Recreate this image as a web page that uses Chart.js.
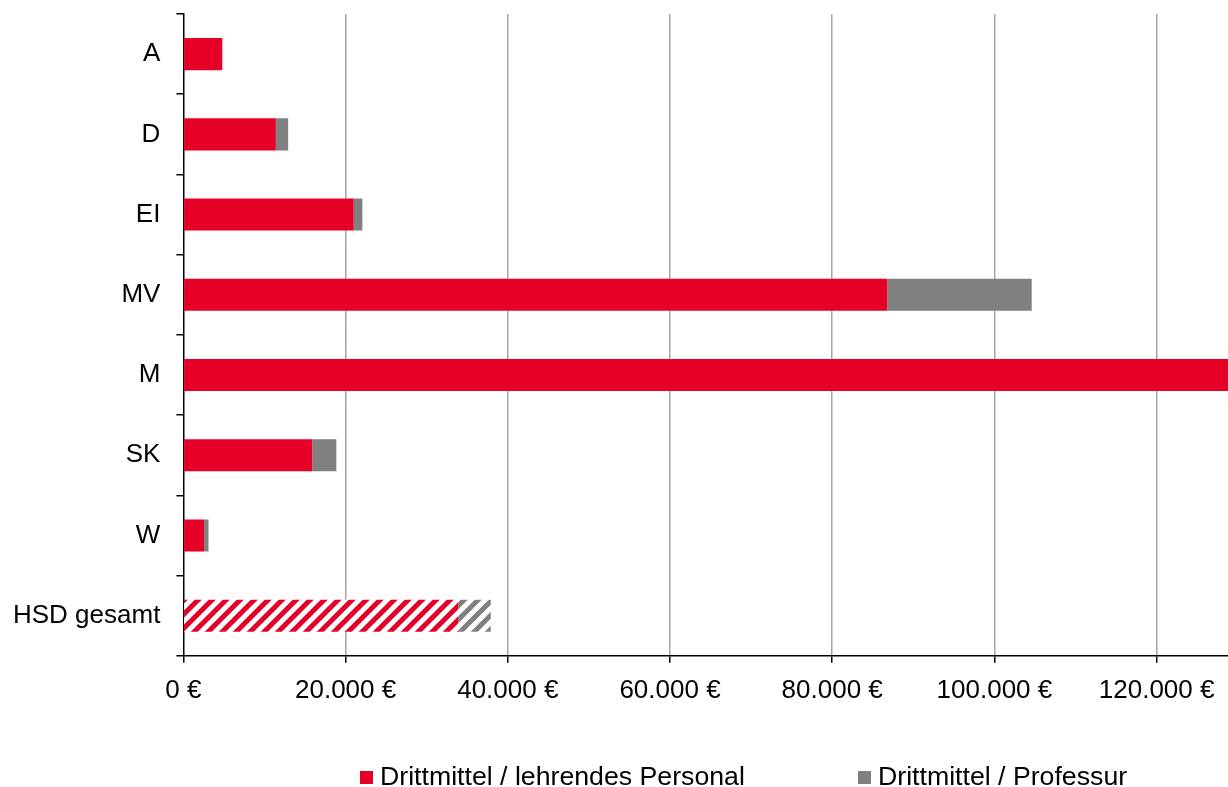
<!DOCTYPE html>
<html>
<head>
<meta charset="utf-8">
<script src="https://cdn.jsdelivr.net/npm/chart.js@4/dist/chart.umd.min.js"></script>
<style>
    html, body { margin: 0; padding: 0; background: #fff; }
    #wrap { position: relative; width: 1228px; height: 787px; }
    #legend {
        position: absolute; top: 762px; left: 0; width: 1228px; height: 28px;
        font-family: "Liberation Sans", Arial, sans-serif; font-size: 26.7px; color: #000;
    }
    .item { position: absolute; top: 0; white-space: nowrap; line-height: 28px; }
    .box { display: inline-block; width: 13px; height: 13px; margin-right: 7px; vertical-align: 1px; }
</style>
</head>
<body>
<div id="wrap">
    <canvas id="chart" width="1228" height="787"></canvas>
    <div id="legend">
        <div class="item" style="left:360px"><span class="box" style="background:#e60028"></span>Drittmittel / lehrendes Personal</div>
        <div class="item" style="left:858px"><span class="box" style="background:#808080"></span>Drittmittel / Professur</div>
    </div>
</div>
<script>
// Daten
const categories = ['A', 'D', 'EI', 'MV', 'M', 'SK', 'W', 'HSD gesamt'];
const lehrendesPersonal = [4800, 11400, 21000, 86800, 131000, 15900, 2550, 33900];
const professur = [0, 1520, 1070, 17800, 0, 2960, 550, 4000];
const xTicks = [0, 20000, 40000, 60000, 80000, 100000, 120000];

const RED = '#e60028';
const GRAY = '#808080';

// Schraffur fuer "HSD gesamt"
function makeHatch(color) {
    const size = 14;
    const c = document.createElement('canvas');
    c.width = size;
    c.height = size;
    const ctx = c.getContext('2d');
    ctx.fillStyle = '#fff';
    ctx.fillRect(0, 0, size, size);
    ctx.strokeStyle = color;
    ctx.lineWidth = 5;
    ctx.beginPath();
    ctx.moveTo(-size, 2 * size); ctx.lineTo(2 * size, -size);
    ctx.moveTo(-2 * size, 2 * size); ctx.lineTo(size, -size);
    ctx.moveTo(0, 2 * size); ctx.lineTo(3 * size, -size);
    ctx.stroke();
    return ctx.createPattern(c, 'repeat');
}
const redHatch = makeHatch(RED);
const grayHatch = makeHatch(GRAY);

function formatEuro(v) {
    return v.toString().replace(/\B(?=(\d{3})+(?!\d))/g, '.') + ' €';
}

// Achsen sollen keinen Extra-Rand fuer Beschriftungen reservieren
function noEdgePadding(axis) {
    axis.paddingTop = 0;
    axis.paddingBottom = 0;
    axis.paddingLeft = 0;
    axis.paddingRight = 0;
}

const fontFamily = '"Liberation Sans", Arial, sans-serif';

new Chart(document.getElementById('chart').getContext('2d'), {
    type: 'bar',
    data: {
        labels: categories,
        datasets: [{
            label: 'Drittmittel / lehrendes Personal',
            data: lehrendesPersonal,
            backgroundColor: (ctx) => ctx.dataIndex === categories.length - 1 ? redHatch : RED,
            barPercentage: 0.4,
            categoryPercentage: 1
        }, {
            label: 'Drittmittel / Professur',
            data: professur,
            backgroundColor: (ctx) => ctx.dataIndex === categories.length - 1 ? grayHatch : GRAY,
            barPercentage: 0.4,
            categoryPercentage: 1
        }]
    },
    options: {
        indexAxis: 'y',
        responsive: false,
        animation: false,
        layout: { padding: { top: 14, right: 0, left: -3, bottom: 69 } },
        scales: {
            x: {
                stacked: true,
                min: 0,
                max: 128800,
                afterBuildTicks: (axis) => { axis.ticks = xTicks.map(v => ({ value: v })); },
                afterFit: noEdgePadding,
                ticks: {
                    color: '#000',
                    font: { family: fontFamily, size: 26 },
                    padding: 12,
                    maxRotation: 0,
                    callback: (v) => formatEuro(v)
                },
                grid: {
                    color: (ctx) => ctx.tick && ctx.tick.value === 0 ? 'rgba(0,0,0,0)' : '#a6a6a6',
                    lineWidth: 1.5,
                    tickColor: '#000',
                    tickLength: 7
                },
                border: { color: '#000', width: 1.5 }
            },
            y: {
                stacked: true,
                afterFit: noEdgePadding,
                ticks: { color: '#000', font: { family: fontFamily, size: 26 }, padding: 16 },
                grid: {
                    offset: true,
                    drawOnChartArea: false,
                    tickColor: '#000',
                    tickLength: 7,
                    lineWidth: 1.5
                },
                border: { color: '#000', width: 1.5 }
            }
        },
        plugins: {
            legend: { display: false },
            tooltip: { enabled: false }
        }
    }
});
</script>
</body>
</html>
